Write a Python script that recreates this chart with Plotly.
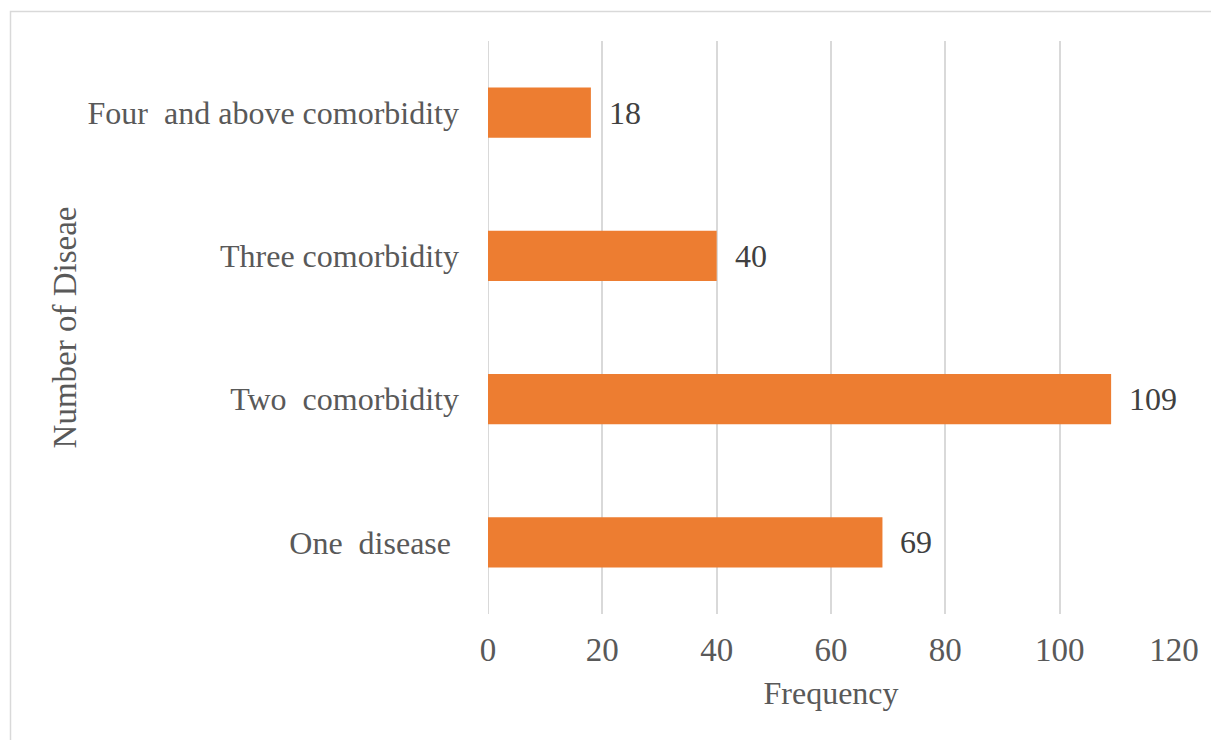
import plotly.graph_objects as go

categories = ["One\u00a0\u00a0disease\u00a0", "Two\u00a0\u00a0comorbidity", "Three comorbidity",
              "Four\u00a0\u00a0and above comorbidity"]
values = [69, 109, 40, 18]
x_ticks = [0, 20, 40, 60, 80, 100, 120]

FONT = "Liberation Serif, Times New Roman, serif"
BAR = "#ED7D31"
GRID = "#D9D9D9"
TXT = "#595959"

fig = go.Figure()
fig.add_trace(go.Bar(
    x=values, y=categories, orientation="h",
    marker=dict(color=BAR, line=dict(width=0)),
    width=0.35, hoverinfo="skip",
))

for v, c in zip(values, categories):
    fig.add_annotation(x=v, y=c, xref="x", yref="y", text=str(v), showarrow=False,
                       xanchor="left", yanchor="middle", xshift=16,
                       font=dict(family=FONT, size=32, color="#404040"))

L, R, T, B = 488, 37, 41, 126
W, H = 1211, 740
pw = W - L - R
ph = H - T - B

def px(xp):
    return (xp - L) / pw

def py(yp):
    return (H - B - yp) / ph

fig.add_shape(type="rect", xref="paper", yref="paper",
              x0=px(10.5), x1=px(1220), y0=py(11.5), y1=py(750),
              line=dict(color=GRID, width=1.5), fillcolor="rgba(0,0,0,0)", layer="below")

fig.update_layout(
    width=W, height=H,
    margin=dict(l=L, r=R, t=T, b=B, pad=0),
    paper_bgcolor="white", plot_bgcolor="white",
    showlegend=False,
    font=dict(family=FONT, size=32, color=TXT),
    xaxis=dict(
        range=[0, 120], tickvals=x_ticks, ticktext=[str(t) for t in x_ticks],
        showgrid=True, gridcolor=GRID, gridwidth=2,
        zeroline=False, showline=False, ticks="",
        ticklabelstandoff=13,
        tickfont=dict(family=FONT, size=33, color=TXT),
        title=dict(text="Frequency", font=dict(family=FONT, size=32, color=TXT), standoff=14),
        fixedrange=True,
    ),
    yaxis=dict(
        categoryorder="array", categoryarray=categories,
        range=[-0.5, 3.5],
        showgrid=False, zeroline=False, showline=False, ticks="",
        ticklabelstandoff=28,
        tickfont=dict(family=FONT, size=32, color=TXT),
        title=dict(text="Number of Diseae", font=dict(family=FONT, size=33, color=TXT), standoff=0),
        fixedrange=True,
    ),
)

fig.add_shape(type="line", xref="x", yref="paper", x0=0, x1=0, y0=0, y1=1,
              line=dict(color=GRID, width=2), layer="below")

fig.write_html("out.html")
